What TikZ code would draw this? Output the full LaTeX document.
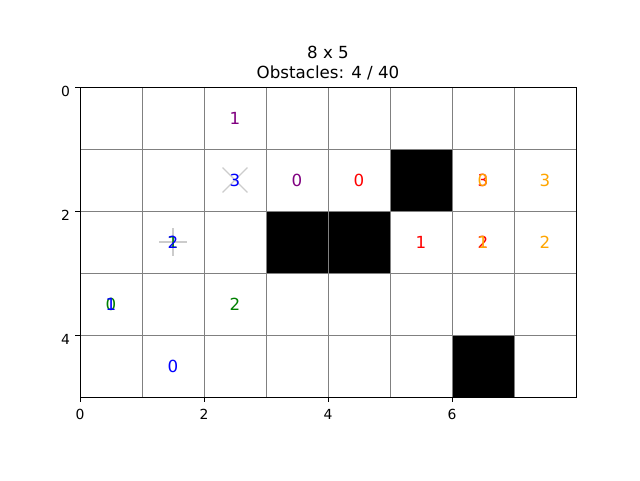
\documentclass[tikz,border=0pt]{standalone}
\usepackage{fontspec}
\setmainfont{DejaVu Sans}
\definecolor{mplblue}{HTML}{0000FF}
\definecolor{mplgreen}{HTML}{008000}
\definecolor{mplred}{HTML}{FF0000}
\definecolor{mplorange}{HTML}{FFA500}
\definecolor{mplpurple}{HTML}{800080}
\definecolor{gridgray}{HTML}{808080}
\definecolor{markgray}{HTML}{CCCCCC}
\begin{document}
\begin{tikzpicture}[x=1pt,y=-1pt,
  ticklab/.style={inner sep=0pt,font=\fontsize{13.89}{16}\selectfont},
  cellnum/.style={inner sep=0pt,font=\fontsize{16.67}{20}\selectfont},
  titletext/.style={inner sep=0pt,font=\fontsize{16.67}{20}\selectfont},
  gridline/.style={draw=gridgray,line width=0.75pt},
  spine/.style={draw=black,line width=0.9pt},
  marker/.style={draw=markgray,line width=1.1pt}]
\useasboundingbox (0,0) rectangle (640,480);
\node[titletext] (t1) at (328,52) {8 x 5};
\node[titletext] (t2) at (328,73) {Obstacles: 4 / 40};
\begin{scope}[shift={(80,87)},x=62pt,y=-62pt]
  % obstacles
  \fill[black] (5,1) rectangle (6,2);
  \fill[black] (3,2) rectangle (5,3);
  \fill[black] (6,4) rectangle (7,5);
  % grid
  \foreach \c in {1,...,7} \draw[gridline] (\c,0) -- (\c,5);
  \foreach \r in {1,...,4} \draw[gridline] (0,\r) -- (8,\r);
  % spines
  \draw[spine] (0,0) rectangle (8,5);
  % ticks
  \foreach \c in {0,2,4,6} {
    \draw[spine] (\c,5) -- ++(0,0.079);
    \node[ticklab,anchor=north] (xl\c) at (\c,5.2) {\c};
  }
  \foreach \r in {0,2,4} {
    \draw[spine] (0,\r) -- ++(-0.079,0);
    \node[ticklab,anchor=east] (yl\r) at (-0.16,\r+0.07) {\r};
  }
  % markers
  \draw[marker] (2.5,1.5) ++(-0.2,-0.2) -- ++(0.4,0.4);
  \draw[marker] (2.5,1.5) ++(-0.2,0.2) -- ++(0.4,-0.4);
  \draw[marker] (1.5,2.5) ++(-0.22,0) -- ++(0.44,0);
  \draw[marker] (1.5,2.5) ++(0,-0.22) -- ++(0,0.44);
  % labels
  \node[cellnum,text=mplpurple] (a1) at (2.5,0.5) {1};
  \node[cellnum,text=mplblue] (a2) at (2.5,1.5) {3};
  \node[cellnum,text=mplpurple] (a3) at (3.5,1.5) {0};
  \node[cellnum,text=mplred] (a4) at (4.5,1.5) {0};
  \node[cellnum,text=mplred] (a5) at (6.5,1.5) {3};
  \node[cellnum,text=mplorange] (a6) at (6.5,1.5) {0};
  \node[cellnum,text=mplorange] (a7) at (7.5,1.5) {3};
  \node[cellnum,text=mplgreen] (a8) at (1.5,2.5) {1};
  \node[cellnum,text=mplblue] (a9) at (1.5,2.5) {2};
  \node[cellnum,text=mplred] (a10) at (5.5,2.5) {1};
  \node[cellnum,text=mplred] (a11) at (6.5,2.5) {2};
  \node[cellnum,text=mplorange] (a12) at (6.5,2.5) {1};
  \node[cellnum,text=mplorange] (a13) at (7.5,2.5) {2};
  \node[cellnum,text=mplgreen] (a14) at (0.5,3.5) {0};
  \node[cellnum,text=mplblue] (a15) at (0.5,3.5) {1};
  \node[cellnum,text=mplgreen] (a16) at (2.5,3.5) {2};
  \node[cellnum,text=mplblue] (a17) at (1.5,4.5) {0};
\end{scope}
\end{tikzpicture}
\end{document}
